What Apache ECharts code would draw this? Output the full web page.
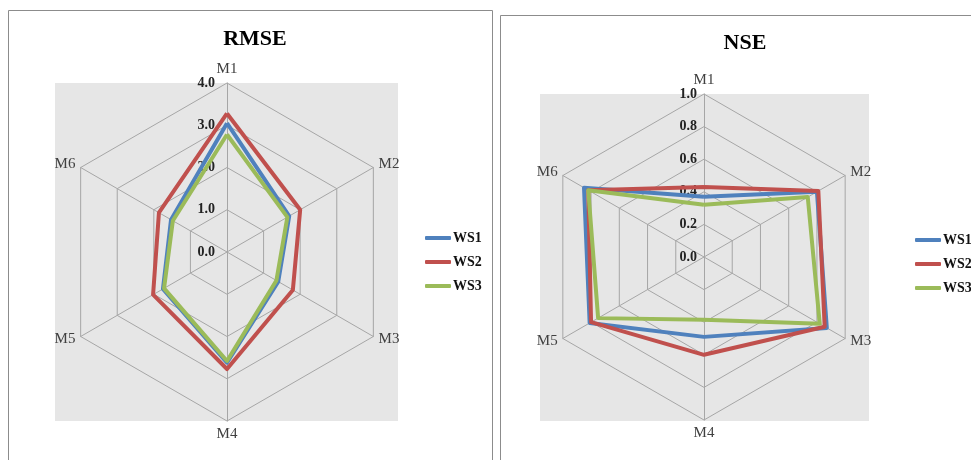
<!DOCTYPE html>
<html>
<head>
<meta charset="utf-8">
<script src="https://cdn.jsdelivr.net/npm/echarts@6/dist/echarts.min.js"></script>
<style>
html,body{margin:0;padding:0;background:#fff;}
#chart{width:971px;height:460px;}
</style>
</head>
<body>
<div id="chart"></div>
<script>
const indicators = ['M1', 'M2', 'M3', 'M4', 'M5', 'M6'];
const seriesNames = ['WS1', 'WS2', 'WS3'];
const rmseWS1 = [3.05, 1.70, 1.40, 2.62, 1.75, 1.53];
const rmseWS2 = [3.28, 2.00, 1.80, 2.77, 2.02, 1.86];
const rmseWS3 = [2.78, 1.65, 1.35, 2.58, 1.72, 1.48];
const nseWS1 = [0.37, 0.80, 0.87, 0.49, 0.81, 0.85];
const nseWS2 = [0.43, 0.81, 0.855, 0.60, 0.80, 0.82];
const nseWS3 = [0.32, 0.735, 0.82, 0.385, 0.75, 0.82];
const rmseMax = 4, rmseSplits = 4;
const nseMax = 1, nseSplits = 5;

const colors = ['#4f81bd', '#c0504d', '#9bbb59'];
const serif = '"Liberation Serif", "DejaVu Serif", serif';

// ECharts lays indicators counter-clockwise; reorder so M1..M6 run clockwise.
function cw(arr) { return [arr[0]].concat(arr.slice(1).reverse()); }

function makeIndicators(max) {
  return cw(indicators).map((n, i) => {
    const o = { name: n, min: 0, max: max };
    if (i === 0) o.axisLabel = { show: true };
    return o;
  });
}

function radarCfg(center, radius, max, splits, margin) {
  return {
    center: center,
    radius: radius,
    shape: 'polygon',
    startAngle: 90,
    splitNumber: splits,
    indicator: makeIndicators(max),
    axisName: { color: '#404040', fontFamily: serif, fontSize: 15 },
    nameGap: 6,
    splitArea: { show: false },
    splitLine: { lineStyle: { color: '#a6a6a6', width: 1 } },
    axisLine: { lineStyle: { color: '#a6a6a6', width: 1 } },
    axisTick: { show: false },
    axisLabel: {
      show: false,
      color: '#222',
      fontFamily: serif,
      fontWeight: 'bold',
      fontSize: 14,
      margin: margin,
      formatter: v => v.toFixed(1)
    }
  };
}

function radarSeries(idx, dataArrs) {
  return {
    type: 'radar',
    radarIndex: idx,
    symbol: 'none',
    silent: true,
    data: dataArrs.map((d, i) => ({
      name: seriesNames[i],
      value: cw(d),
      lineStyle: { color: colors[i], width: 4 },
      itemStyle: { color: colors[i] }
    }))
  };
}

function legendCfg(left, top) {
  return {
    left: left, top: top, orient: 'vertical',
    data: seriesNames,
    icon: 'roundRect',
    itemWidth: 26, itemHeight: 4, itemGap: 10,
    textStyle: { fontFamily: serif, fontWeight: 'bold', fontSize: 14, color: '#111', padding: [0,0,0,-3] },
    selectedMode: false
  };
}

const chart = echarts.init(document.getElementById('chart'), null, { renderer: 'canvas' });
chart.setOption({
  animation: false,
  color: colors,
  title: [
    { text: 'RMSE', left: 250, top: 22, textAlign: 'center',
      textStyle: { fontFamily: serif, fontWeight: 'bold', fontSize: 22, color: '#000', lineHeight: 24 } },
    { text: 'NSE', left: 740, top: 26, textAlign: 'center',
      textStyle: { fontFamily: serif, fontWeight: 'bold', fontSize: 22, color: '#000', lineHeight: 24 } }
  ],
  legend: [legendCfg(420, 226), legendCfg(910, 228)],
  graphic: [
    { type: 'rect', z: -10, shape: { x: 8.5, y: 10.5, width: 484, height: 470 }, style: { fill: '#fff', stroke: '#8c8c8c', lineWidth: 1 } },
    { type: 'rect', z: -10, shape: { x: 500.5, y: 15.5, width: 480, height: 470 }, style: { fill: '#fff', stroke: '#8c8c8c', lineWidth: 1 } },
    { type: 'rect', z: -9, shape: { x: 55, y: 83, width: 343, height: 338 }, style: { fill: '#e6e6e6' } },
    { type: 'rect', z: -9, shape: { x: 540, y: 94, width: 329, height: 327 }, style: { fill: '#e6e6e6' } }
  ],
  radar: [
    radarCfg([227, 252], 169, rmseMax, rmseSplits, 12),
    radarCfg([704, 257], 163, nseMax, nseSplits, 7)
  ],
  series: [
    radarSeries(0, [rmseWS1, rmseWS2, rmseWS3]),
    radarSeries(1, [nseWS1, nseWS2, nseWS3])
  ]
});
</script>
</body>
</html>
